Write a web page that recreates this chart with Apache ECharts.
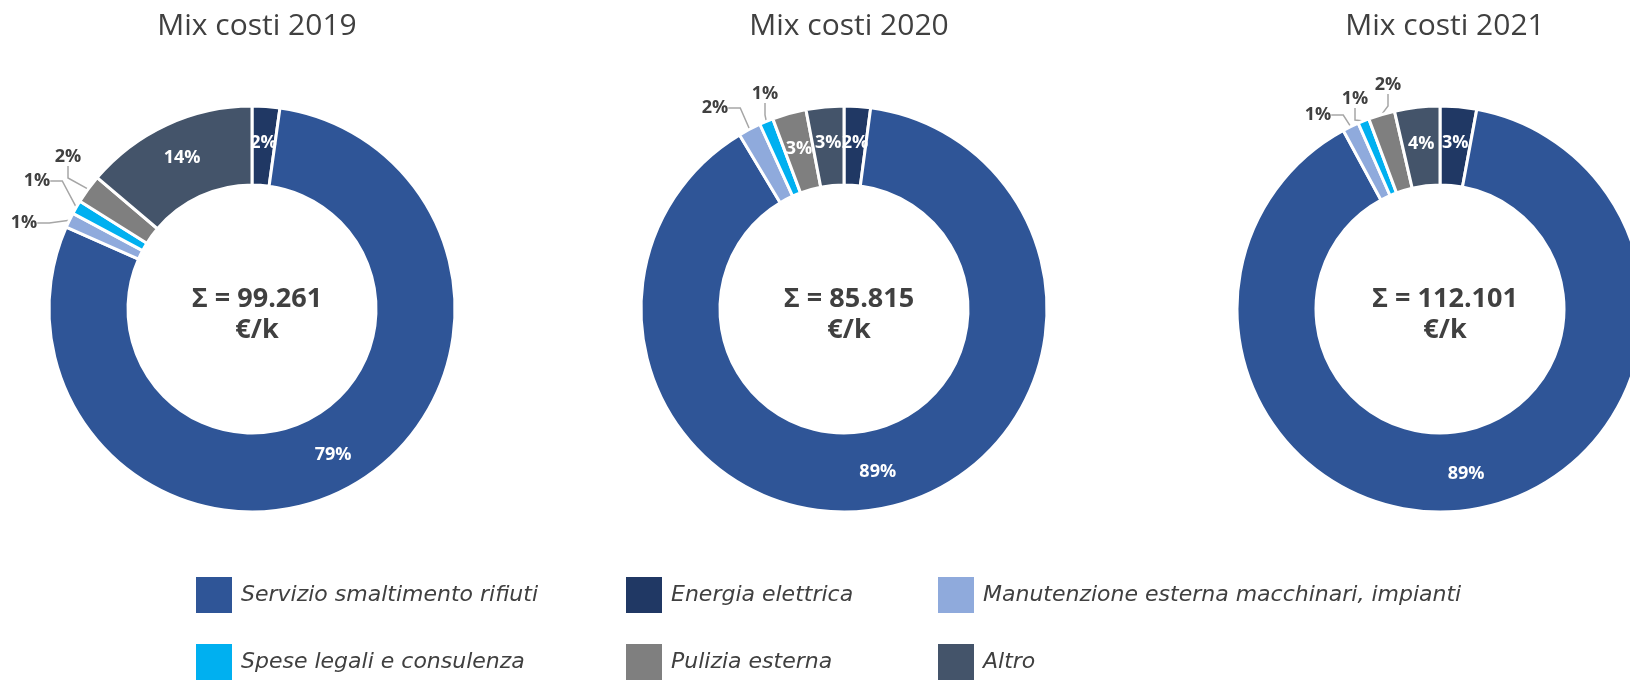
<!DOCTYPE html>
<html>
<head>
<meta charset="utf-8">
<script src="https://cdn.jsdelivr.net/npm/echarts@6/dist/echarts.min.js"></script>
<style>
  html, body { margin: 0; padding: 0; background: #ffffff; }
  #chart { width: 1630px; height: 680px; }
</style>
</head>
<body>
<div id="chart"></div>
<script>
// Cost categories, in the clockwise order of the slices (starting at 12 o'clock)
const categories = [
  'Energia elettrica',
  'Servizio smaltimento rifiuti',
  'Manutenzione esterna macchinari, impianti',
  'Spese legali e consulenza',
  'Pulizia esterna',
  'Altro'
];

// Share of total costs per year (%)
const years = ['2019', '2020', '2021'];
const share2019 = [2.2, 79.4, 1.2, 1.1, 2.3, 13.8];
const share2020 = [2.1, 89.3, 1.8, 1.1, 2.7, 3.0];
const share2021 = [2.9, 89.2, 1.3, 0.9, 2.1, 3.6];
const totals = ['99.261', '85.815', '112.101'];

// Legend grid: columns left to right, two rows each
const legendColumns = [
  ['Servizio smaltimento rifiuti', 'Spese legali e consulenza'],
  ['Energia elettrica', 'Pulizia esterna'],
  ['Manutenzione esterna macchinari, impianti', 'Altro']
];

// Small slices labelled outside the ring: category index -> label offset from the donut centre
const outsideSlices = [
  { 2: [-228, -86], 3: [-215, -128], 4: [-184, -152] },
  { 2: [-129, -201], 3: [-79, -215] },
  { 2: [-122, -194], 3: [-85, -210], 4: [-52, -224] }
];

const colors = {
  'Energia elettrica': '#203864',
  'Servizio smaltimento rifiuti': '#2F5597',
  'Manutenzione esterna macchinari, impianti': '#8FAADC',
  'Spese legali e consulenza': '#00B0F0',
  'Pulizia esterna': '#7F7F7F',
  'Altro': '#44546A'
};

const shares = [share2019, share2020, share2021];
const centersX = [252, 844, 1440];
const centerY = 309;
const textColor = '#404040';

const chart = echarts.init(document.getElementById('chart'));

const series = shares.map((vals, i) => ({
  type: 'pie',
  name: 'Mix costi ' + years[i],
  center: [centersX[i], centerY],
  radius: [124, 203],
  startAngle: 90,
  clockwise: true,
  avoidLabelOverlap: false,
  itemStyle: { borderColor: '#ffffff', borderWidth: 3 },
  label: {
    show: true,
    position: 'inside',
    color: '#ffffff',
    fontFamily: 'Open Sans',
    fontWeight: 'bold',
    fontSize: 18,
    formatter: p => Math.round(p.percent) + '%'
  },
  labelLine: {
    show: true,
    length: 10,
    length2: 12,
    minTurnAngle: 0,
    lineStyle: { color: '#A6A6A6', width: 1.5 }
  },
  // outside labels sit at fixed offsets from the centre; the leader line follows them
  labelLayout: function (params) {
    const off = outsideSlices[i][params.dataIndex];
    if (!off) return {};
    return {
      x: centersX[i] + off[0],
      y: centerY + off[1],
      align: 'center',
      verticalAlign: 'middle'
    };
  },
  emphasis: { disabled: true },
  data: categories.map((name, k) => {
    const item = { name: name, value: vals[k], itemStyle: { color: colors[name] } };
    if (outsideSlices[i][k]) {
      item.label = { position: 'outside', color: textColor };
      item.labelLine = { show: true };
    } else {
      item.labelLine = { show: false };
    }
    return item;
  })
}));

const titles = [];
years.forEach((y, i) => {
  titles.push({
    text: 'Mix costi ' + y,
    left: centersX[i],
    top: 6,
    textAlign: 'center',
    textStyle: { fontFamily: 'Open Sans', fontWeight: 'normal', fontSize: 30, color: textColor }
  });
  titles.push({
    text: 'Σ = ' + totals[i] + '\n€/k',
    left: centersX[i],
    top: 279,
    textAlign: 'center',
    textStyle: { fontFamily: 'Open Sans', fontWeight: 'bold', fontSize: 27, lineHeight: 31, color: textColor }
  });
});

const legendLeft = [194, 624, 936];
const legendTop = [575, 642];
const legends = [];
legendColumns.forEach((col, c) => {
  col.forEach((name, r) => {
    legends.push({
      left: legendLeft[c],
      top: legendTop[r],
      padding: 0,
      icon: 'rect',
      itemWidth: 38,
      itemHeight: 38,
      selectedMode: false,
      data: [name],
      textStyle: {
        fontFamily: 'DejaVu Sans',
        fontStyle: 'italic',
        fontSize: 22,
        color: textColor,
        padding: [0, 0, 0, 3]
      }
    });
  });
});

chart.setOption({
  animation: false,
  color: categories.map(c => colors[c]),
  title: titles,
  legend: legends,
  series: series
});
</script>
</body>
</html>
